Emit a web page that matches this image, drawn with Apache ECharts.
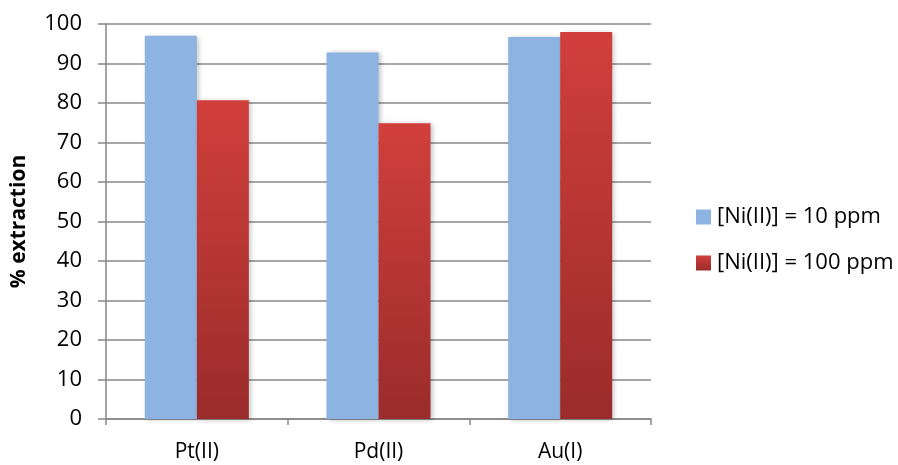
<!DOCTYPE html>
<html>
<head>
<meta charset="utf-8">
<script src="https://cdn.jsdelivr.net/npm/echarts@6/dist/echarts.min.js"></script>
<style>
  html, body { margin: 0; padding: 0; background: #fff; }
  #chart { width: 898px; height: 465px; }
</style>
</head>
<body>
<div id="chart"></div>
<script>
// Metal ions on the category axis
const categories = ['Pt(II)', 'Pd(II)', 'Au(I)'];
// Extraction percentages for each nickel concentration
const ni10 = [97.0, 92.8, 96.7];
const ni100 = [80.7, 74.9, 98.0];
const seriesNames = ['[Ni(II)] = 10 ppm', '[Ni(II)] = 100 ppm'];
const yTicks = [0, 10, 20, 30, 40, 50, 60, 70, 80, 90, 100];

const FONT = '"Open Sans", Lato, sans-serif';
const chart = echarts.init(document.getElementById('chart'));

const redGradient = new echarts.graphic.LinearGradient(0, 0, 0, 1, [
  { offset: 0, color: '#D13F3B' },
  { offset: 1, color: '#9A2C2B' }
]);

chart.setOption({
  animation: false,
  backgroundColor: '#ffffff',
  grid: { left: 106, right: 247, top: 24, bottom: 46, outerBoundsMode: 'none' },
  legend: {
    orient: 'vertical',
    left: 691,
    top: 201,
    itemWidth: 15,
    itemHeight: 15,
    itemGap: 24,
    icon: 'rect',
    textStyle: { fontFamily: FONT, fontSize: 22, lineHeight: 22, color: '#000', padding: [0, 0, 0, 1] },
    data: seriesNames
  },
  xAxis: {
    type: 'category',
    data: categories,
    axisLine: { lineStyle: { color: '#868686', width: 1.5 } },
    axisTick: { show: true, length: 6, lineStyle: { color: '#868686', width: 1.5 } },
    axisLabel: { fontFamily: FONT, fontSize: 21, color: '#000', margin: 23 }
  },
  yAxis: {
    type: 'value',
    min: yTicks[0],
    max: yTicks[yTicks.length - 1],
    interval: 10,
    name: '% extraction',
    nameLocation: 'middle',
    nameGap: 76,
    nameTextStyle: { fontFamily: FONT, fontSize: 21, fontWeight: 'bold', color: '#000' },
    axisLine: { show: true, lineStyle: { color: '#868686', width: 1.5 } },
    axisTick: { show: true, length: 8, lineStyle: { color: '#868686', width: 1.5 } },
    axisLabel: { fontFamily: FONT, fontSize: 22, color: '#000', margin: 24 },
    splitLine: { lineStyle: { color: '#888888', width: 1.5 } }
  },
  series: [
    {
      name: seriesNames[0],
      type: 'bar',
      data: ni10,
      barWidth: 52,
      barGap: '0%',
      itemStyle: {
        color: '#8DB3E2',
        shadowColor: 'rgba(0,0,0,0.25)',
        shadowBlur: 5,
        shadowOffsetX: 2,
        shadowOffsetY: 1
      }
    },
    {
      name: seriesNames[1],
      type: 'bar',
      data: ni100,
      barWidth: 52,
      barGap: '0%',
      itemStyle: {
        color: redGradient,
        shadowColor: 'rgba(0,0,0,0.25)',
        shadowBlur: 5,
        shadowOffsetX: 2,
        shadowOffsetY: 1
      }
    }
  ]
});
</script>
</body>
</html>
